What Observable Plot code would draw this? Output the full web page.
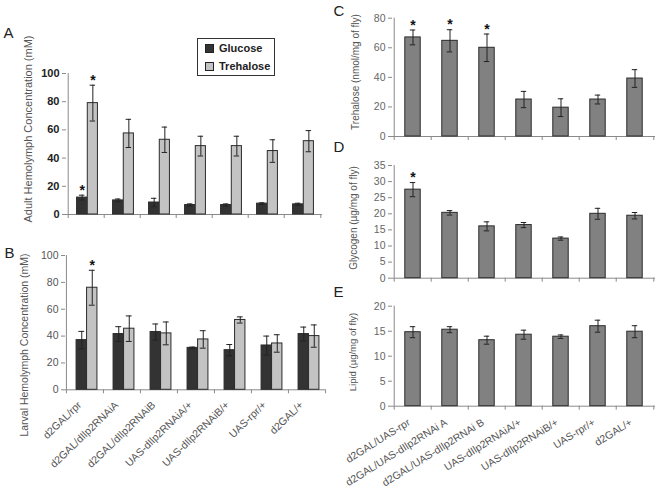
<!DOCTYPE html>
<html><head><meta charset="utf-8">
<script src="https://cdn.jsdelivr.net/npm/d3@7"></script>
<script src="https://cdn.jsdelivr.net/npm/@observablehq/plot@0.6"></script>
<style>
body{margin:0;background:#fff;}
#fig{position:relative;width:661px;height:488px;font-family:"Liberation Sans",Arial,sans-serif;overflow:hidden;}
#fig > svg{position:absolute;}
.legend{position:absolute;left:197px;top:38px;width:76px;height:36px;border:1px solid #333;background:#fff;font-weight:bold;font-size:11px;color:#222;}
.legend .it{position:absolute;left:7px;display:flex;align-items:center;gap:5px;white-space:nowrap;}
.legend .sw{width:7px;height:7px;border:1px solid #222;display:inline-block;}
.ytitle{position:absolute;white-space:nowrap;color:#555;line-height:1;transform:translate(-50%,-50%) rotate(-90deg);}
</style></head><body><div id="fig"></div>
<script>
// ---- categories ----
const genotypesAB = ["d2GAL/rpr","d2GAL/dIlp2RNAiA","d2GAL/dIlp2RNAiB","UAS-dIlp2RNAiA/+","UAS-dIlp2RNAiB/+","UAS-rpr/+","d2GAL/+"];
const genotypesCDE = ["d2GAL/UAS-rpr","d2GAL/UAS-dIlp2RNAi A","d2GAL/UAS-dIlp2RNAi B","UAS-dIlp2RNAiA/+","UAS-dIlp2RNAiB/+","UAS-rpr/+","d2GAL/+"];

// ---- A: adult hemolymph (mM) ----
const adultGlucose      = [12, 10, 8.5, 6.7, 6.7, 7.7, 7.2];
const adultGlucoseErr   = [1.7, 1, 3, 0.8, 0.8, 0.6, 0.8];
const adultGlucoseSig   = [0];
const adultTrehalose    = [79, 57.5, 53, 48.5, 48.5, 45, 52];
const adultTrehaloseErr = [12.7, 10, 9, 7, 7, 8, 7.5];
const adultTrehaloseSig = [0];

// ---- B: larval hemolymph (mM) ----
const larvalGlucose      = [37, 41.5, 43, 31.2, 29.5, 33, 41.5];
const larvalGlucoseErr   = [6.5, 5.5, 6, 0.6, 4.2, 7, 5.2];
const larvalGlucoseSig   = [];
const larvalTrehalose    = [76, 45.5, 42, 37.5, 52, 34.5, 40];
const larvalTrehaloseErr = [13, 9.5, 8.5, 6.5, 2.3, 6.5, 8.3];
const larvalTrehaloseSig = [0];

// ---- C, D, E ----
const trehaloseBody    = [67, 64.7, 60, 25, 19.5, 25, 39.2];
const trehaloseBodyErr = [5, 7.5, 9.3, 5.5, 6, 3, 6];
const trehaloseBodySig = [0, 1, 2];
const glycogen    = [27.5, 20.3, 16.1, 16.5, 12.3, 20, 19.4];
const glycogenErr = [2.2, 0.7, 1.4, 0.8, 0.5, 1.7, 1];
const glycogenSig = [0];
const lipid    = [14.8, 15.3, 13.2, 14.3, 13.9, 16, 14.9];
const lipidErr = [1.1, 0.6, 0.8, 0.9, 0.35, 1.2, 1.2];
const lipidSig = [];

// ---- tick labels ----
const ticksA = [0, 20, 40, 60, 80, 100];
const ticksB = [0, 20, 40, 60, 80, 100];
const ticksC = [0, 20, 40, 60, 80];
const ticksD = [0, 5, 10, 15, 20, 25, 30, 35];
const ticksE = [0, 5, 10, 15, 20];

const FONT = '"Liberation Sans", Arial, sans-serif';
const AXIS = "#8a8a8a";
const fig = document.getElementById("fig");

function panel(cfg) {
  const {cats, series, yTicks, width, height, mL, mR, mT, mB} = cfg;
  const yMax = yTicks[yTicks.length - 1];
  const bw = (width - mL - mR) / cats.length;
  const marks = [];
  marks.push(Plot.ruleY([0], {stroke: AXIS}));
  marks.push(Plot.ruleX([cats[0]], {y1: 0, y2: yMax, dx: -bw / 2, stroke: AXIS}));
  marks.push(Plot.ruleX(cats, {y1: 0, y2: 0, dx: -bw / 2, insetBottom: -4, stroke: AXIS}));
  marks.push(Plot.ruleX([cats[cats.length - 1]], {y1: 0, y2: 0, dx: bw / 2, insetBottom: -4, stroke: AXIS}));
  marks.push(Plot.axisY({ticks: yTicks, tickSize: 4, tickPadding: 3, stroke: AXIS, fill: cfg.tickColor,
    fontSize: cfg.tickSize, fontWeight: cfg.tickWeight, label: null, tickFormat: d => String(d)}));
  for (const s of series) {
    const rows = cats.map((c, i) => ({cat: c, v: s.values[i], lo: s.values[i] - s.errs[i], hi: s.values[i] + s.errs[i], sig: s.sig.includes(i)}));
    const l = s.center - s.barWidth / 2, r = s.center + s.barWidth / 2;
    marks.push(Plot.barY(rows, {x: "cat", y: "v", fill: s.fill, stroke: "#2b2b2b", strokeWidth: 1, insetLeft: bw / 2 + l, insetRight: bw / 2 - r}));
    marks.push(Plot.ruleX(rows, {x: "cat", y1: "lo", y2: "hi", dx: s.center, stroke: "#222"}));
    for (const k of ["lo", "hi"]) {
      marks.push(Plot.tickY(rows, {x: "cat", y: k, insetLeft: bw / 2 + s.center - 3, insetRight: bw / 2 - s.center - 3, stroke: "#222"}));
    }
    marks.push(Plot.text(rows.filter(d => d.sig), {x: "cat", y: "hi", text: () => "*", dx: s.center, dy: -5, fontSize: 14, fontWeight: "bold", fill: "#111"}));
  }
  marks.push(Plot.text([cfg.letter], {text: d => d, frameAnchor: "top-left", dx: cfg.letterDx, dy: cfg.letterDy, textAnchor: "start", lineAnchor: "top", fontSize: 15, fill: "#222"}));
  if (cfg.xLabels) {
    marks.push(Plot.text(cfg.xLabels, {x: d => d, text: d => d, frameAnchor: "bottom", rotate: cfg.xRotate, textAnchor: "end",
      dx: cfg.xDx, dy: cfg.xDy, fontSize: cfg.xSize, fill: "#555"}));
  }
  const svg = Plot.plot({
    width, height, marginLeft: mL, marginRight: mR, marginTop: mT, marginBottom: mB,
    style: {overflow: "visible", background: "transparent", fontFamily: FONT},
    x: {type: "band", domain: cats, padding: 0, axis: null},
    y: {domain: [0, yMax], label: null},
    marks
  });
  svg.style.left = cfg.left + "px";
  svg.style.top = cfg.top + "px";
  fig.appendChild(svg);
  const t = document.createElement("div");
  t.className = "ytitle";
  t.textContent = cfg.title;
  t.style.left = cfg.titleX + "px";
  t.style.top = cfg.titleY + "px";
  t.style.fontSize = cfg.titleSize + "px";
  fig.appendChild(t);
}

const DARK = "#333333", LIGHT = "#c3c3c3", MID = "#818181";

panel({
  cats: genotypesAB, left: 0, top: 0, width: 330, height: 230, mL: 66, mR: 8, mT: 73, mB: 16,
  yTicks: ticksA, tickColor: "#222", tickSize: 11, tickWeight: "bold",
  series: [
    {values: adultGlucose, errs: adultGlucoseErr, sig: adultGlucoseSig, fill: DARK, center: 1 - 5.35, barWidth: 10.7},
    {values: adultTrehalose, errs: adultTrehaloseErr, sig: adultTrehaloseSig, fill: LIGHT, center: 1 + 5.35, barWidth: 10.7}
  ],
  title: "Adult Hemolymph Concentration (mM)", titleX: 28, titleY: 129, titleSize: 11,
  letter: "A", letterDx: -63, letterDy: -46
});

panel({
  cats: genotypesAB, left: 0, top: 230, width: 330, height: 258, mL: 65, mR: 5, mT: 25, mB: 98.7,
  yTicks: ticksB, tickColor: "#555", tickSize: 10.5, tickWeight: "normal",
  series: [
    {values: larvalGlucose, errs: larvalGlucoseErr, sig: larvalGlucoseSig, fill: DARK, center: 2 - 5.25, barWidth: 10.5},
    {values: larvalTrehalose, errs: larvalTrehaloseErr, sig: larvalTrehaloseSig, fill: LIGHT, center: 2 + 5.25, barWidth: 10.5}
  ],
  title: "Larval Hemolymph Concentration (mM)", titleX: 24, titleY: 345, titleSize: 10.5,
  letter: "B", letterDx: -61, letterDy: -8,
  xLabels: genotypesAB, xRotate: -44, xDx: -3, xDy: 16, xSize: 10.5
});

panel({
  cats: genotypesCDE, left: 330, top: 0, width: 331, height: 145, mL: 62, mR: 6, mT: 17.7, mB: 9,
  yTicks: ticksC, tickColor: "#666", tickSize: 10.5, tickWeight: "normal",
  series: [{values: trehaloseBody, errs: trehaloseBodyErr, sig: trehaloseBodySig, fill: MID, center: 0, barWidth: 16}],
  title: "Trehalose (nmol/mg of fly)", titleX: 356, titleY: 72, titleSize: 10,
  letter: "C", letterDx: -59, letterDy: -12.7
});

panel({
  cats: genotypesCDE, left: 330, top: 145, width: 331, height: 140, mL: 62, mR: 6, mT: 20, mB: 7.3,
  yTicks: ticksD, tickColor: "#666", tickSize: 10.5, tickWeight: "normal",
  series: [{values: glycogen, errs: glycogenErr, sig: glycogenSig, fill: MID, center: 0, barWidth: 16}],
  title: "Glycogen (µg/mg of fly)", titleX: 354, titleY: 218, titleSize: 10,
  letter: "D", letterDx: -59, letterDy: -24
});

panel({
  cats: genotypesCDE, left: 330, top: 285, width: 331, height: 203, mL: 62, mR: 6, mT: 20.7, mB: 82.3,
  yTicks: ticksE, tickColor: "#666", tickSize: 10.5, tickWeight: "normal",
  series: [{values: lipid, errs: lipidErr, sig: lipidSig, fill: MID, center: 0, barWidth: 16}],
  title: "Lipid (µg/mg of fly)", titleX: 352.5, titleY: 352, titleSize: 9.5,
  letter: "E", letterDx: -59, letterDy: -19.7,
  xLabels: genotypesCDE, xRotate: -32, xDx: -2, xDy: 18, xSize: 10.5
});

// legend for panel A
const legendItems = [{name: "Glucose", fill: DARK}, {name: "Trehalose", fill: LIGHT}];
const lg = document.createElement("div");
lg.className = "legend";
legendItems.forEach((it, i) => {
  const row = document.createElement("div");
  row.className = "it";
  row.style.top = (3 + i * 18) + "px";
  const sw = document.createElement("span");
  sw.className = "sw";
  sw.style.background = it.fill;
  const tx = document.createElement("span");
  tx.textContent = it.name;
  row.appendChild(sw); row.appendChild(tx);
  lg.appendChild(row);
});
fig.appendChild(lg);
</script></body></html>
